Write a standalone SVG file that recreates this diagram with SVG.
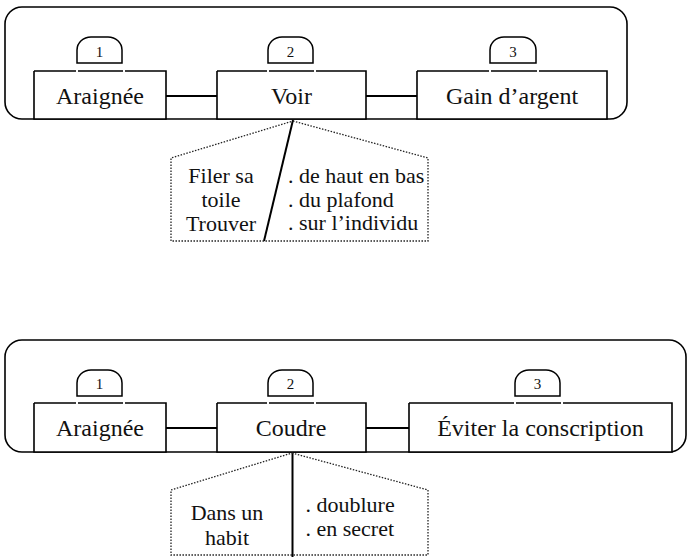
<svg xmlns="http://www.w3.org/2000/svg" width="688" height="557" viewBox="0 0 688 557" font-family="'Liberation Serif', serif">
<style>
.frame{fill:none;stroke:#000;stroke-width:1.6}
.bg{fill:#fff;stroke:none}
.edge{fill:none;stroke:#000;stroke-width:1.6}
.tab{fill:#fff;stroke:#000;stroke-width:1.5}
.lbl{font-family:'Liberation Serif',serif;font-size:24px;fill:#111;text-anchor:middle}
.num{font-family:'Liberation Serif',serif;font-size:15px;fill:#111;text-anchor:middle}
.ct{font-family:'Liberation Serif',serif;font-size:22px;fill:#111}
.mid{text-anchor:middle}
.dot{fill:none;stroke:#222;stroke-width:1.3;stroke-dasharray:1.5 1.5}
.link{fill:none;stroke:#000;stroke-width:2}
</style>

<g id="frame-top">
<rect class="frame" x="5" y="7" width="622" height="112" rx="17" ry="17"/>
</g>
<g id="frame-bottom">
<rect class="frame" x="5" y="340" width="681" height="112" rx="17" ry="17"/>
</g>

<g id="connectors">
<line class="link" x1="166" y1="96" x2="217" y2="96"/>
<line class="link" x1="366" y1="96" x2="417" y2="96"/>
<line class="link" x1="166" y1="428" x2="217" y2="428"/>
<line class="link" x1="366" y1="428" x2="409" y2="428"/>
<line class="link" x1="293" y1="120" x2="264" y2="241"/>
<line class="link" x1="292.5" y1="452" x2="292.5" y2="557"/>
</g>

<g id="node-araignee-1">
<rect class="bg" x="34" y="71" width="132" height="48"/>
<path class="edge" d="M34,71 H76 M78,71 H123 M125,71 H166 V119 H34 V71"/>
<path class="tab" d="M77,63 V50 A14 13 0 0 1 91,37 H108 A14 13 0 0 1 122,50 V63 Z"/>
<text class="num" x="99.5" y="57">1</text>
<text class="lbl" x="100" y="104">Araignée</text>
</g>

<g id="node-voir">
<rect class="bg" x="217" y="71" width="149" height="48"/>
<path class="edge" d="M217,71 H267 M269,71 H314 M316,71 H366 V119 H217 V71"/>
<path class="tab" d="M268,63 V50 A14 13 0 0 1 282,37 H299 A14 13 0 0 1 313,50 V63 Z"/>
<text class="num" x="290.5" y="57">2</text>
<text class="lbl" x="291.5" y="104">Voir</text>
</g>

<g id="node-gain">
<rect class="bg" x="417" y="71" width="190" height="48"/>
<path class="edge" d="M417,71 H489 M491,71 H537 M539,71 H607 V119 H417 V71"/>
<path class="tab" d="M490,63 V50 A14 13 0 0 1 504,37 H522 A14 13 0 0 1 536,50 V63 Z"/>
<text class="num" x="513" y="57">3</text>
<text class="lbl" x="512" y="104">Gain d’argent</text>
</g>

<g id="callout-voir">
<polygon class="dot" points="293,121 428,158 428,241 171,241 171,158"/>
<text class="ct mid" x="221" y="183">Filer sa</text>
<text class="ct mid" x="221" y="207">toile</text>
<text class="ct mid" x="221" y="231">Trouver</text>
<text class="ct" x="288" y="183">. de haut en bas</text>
<text class="ct" x="288" y="206.5">. du plafond</text>
<text class="ct" x="288" y="230">. sur l’individu</text>
</g>

<g id="node-araignee-2">
<rect class="bg" x="34" y="403" width="132" height="49"/>
<path class="edge" d="M34,403 H76 M78,403 H123 M125,403 H166 V452 H34 V403"/>
<path class="tab" d="M77,396 V383 A14 13 0 0 1 91,370 H108 A14 13 0 0 1 122,383 V396 Z"/>
<text class="num" x="99.5" y="389">1</text>
<text class="lbl" x="100" y="436">Araignée</text>
</g>

<g id="node-coudre">
<rect class="bg" x="217" y="403" width="149" height="49"/>
<path class="edge" d="M217,403 H267 M269,403 H314 M316,403 H366 V452 H217 V403"/>
<path class="tab" d="M268,396 V383 A14 13 0 0 1 282,370 H299 A14 13 0 0 1 313,383 V396 Z"/>
<text class="num" x="290.5" y="389">2</text>
<text class="lbl" x="291" y="436">Coudre</text>
</g>

<g id="node-eviter">
<rect class="bg" x="409" y="403" width="263" height="49"/>
<path class="edge" d="M409,403 H514 M516,403 H561 M563,403 H672 V452 H409 V403"/>
<path class="tab" d="M515,396 V383 A14 13 0 0 1 529,370 H546 A14 13 0 0 1 560,383 V396 Z"/>
<text class="num" x="537.5" y="389">3</text>
<text class="lbl" x="540.5" y="436">Éviter la conscription</text>
</g>

<g id="callout-coudre">
<polygon class="dot" points="292,453 428,490 428,555 171,555 171,490"/>
<text class="ct mid" x="227" y="520">Dans un</text>
<text class="ct mid" x="227" y="545">habit</text>
<text class="ct" x="305.5" y="511.5">. doublure</text>
<text class="ct" x="305.5" y="536">. en secret</text>
</g>
</svg>
